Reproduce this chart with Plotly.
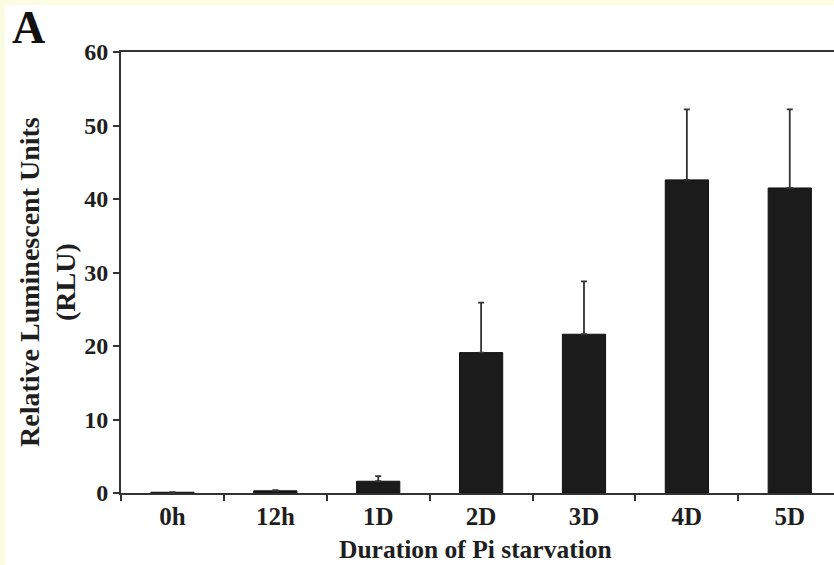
import plotly.graph_objects as go

categories = ["0h", "12h", "1D", "2D", "3D", "4D", "5D"]
rlu_mean = [0.1, 0.3, 1.6, 19.1, 21.6, 42.6, 41.5]
rlu_err_up = [0.0, 0.1, 0.7, 6.8, 7.2, 9.6, 10.7]
y_ticks = [0, 10, 20, 30, 40, 50, 60]

W, H = 834, 565
L, R, T, B = 121, 0, 52, 72
pw, ph = W - L - R, H - T - B

serif = "Liberation Serif, Times New Roman, serif"
ink = "#1e1e1e"

fig = go.Figure()
fig.add_trace(go.Bar(
    x=categories, y=rlu_mean, width=0.42,
    marker=dict(color="#1b1b1b", line=dict(color="#111", width=1)),
    error_y=dict(type="data", array=rlu_err_up, arrayminus=[0]*len(rlu_err_up),
                 symmetric=False, color="#333", thickness=1.8, width=3),
))

def px_x(p):
    return (p - L) / pw
def px_y(p):
    return (H - B - p) / ph

fig.add_shape(type="rect", xref="paper", yref="paper",
              x0=px_x(5), x1=px_x(W + 5), y0=px_y(H + 5), y1=px_y(5),
              fillcolor="white", line=dict(width=0), layer="below")

fig.add_annotation(text="<b>A</b>", xref="paper", yref="paper", x=px_x(28), y=px_y(27),
                   xanchor="center", yanchor="middle", showarrow=False,
                   font=dict(family=serif, size=46, color="#111"))
fig.add_annotation(text="<b>Relative Luminescent Units<br>(RLU)</b>", xref="paper", yref="paper",
                   x=px_x(47), y=px_y(282), textangle=-90, showarrow=False,
                   xanchor="center", yanchor="middle",
                   font=dict(family=serif, size=28, color=ink))
fig.add_annotation(text="<b>Duration of Pi starvation</b>", xref="paper", yref="paper",
                   x=px_x(475), y=px_y(549), showarrow=False,
                   xanchor="center", yanchor="middle",
                   font=dict(family=serif, size=25.5, color=ink))

fig.update_layout(
    width=W, height=H,
    margin=dict(l=L, r=R, t=T, b=B, pad=0),
    paper_bgcolor="#fafde1", plot_bgcolor="white",
    showlegend=False,
    font=dict(family=serif, color=ink),
)
fig.update_xaxes(
    type="category", range=[-0.5, 6.43],
    showline=True, linecolor="#333", linewidth=2, mirror=True,
    ticks="outside", tickson="boundaries", ticklen=6, tickwidth=1.5, tickcolor="#333",
    tickfont=dict(family=serif, size=25, color=ink, weight="bold"),
    showgrid=False, zeroline=False,
)
fig.update_yaxes(
    range=[0, 60], tickvals=y_ticks,
    showline=True, linecolor="#333", linewidth=2,
    ticks="outside", ticklen=6, tickwidth=1.5, tickcolor="#333",
    tickfont=dict(family=serif, size=24, color=ink, weight="bold"),
    showgrid=False, zeroline=False,
)

fig.write_html("out.html", config={"displayModeBar": False},
               post_script="document.body.style.margin='0px';document.body.style.overflow='hidden';")
